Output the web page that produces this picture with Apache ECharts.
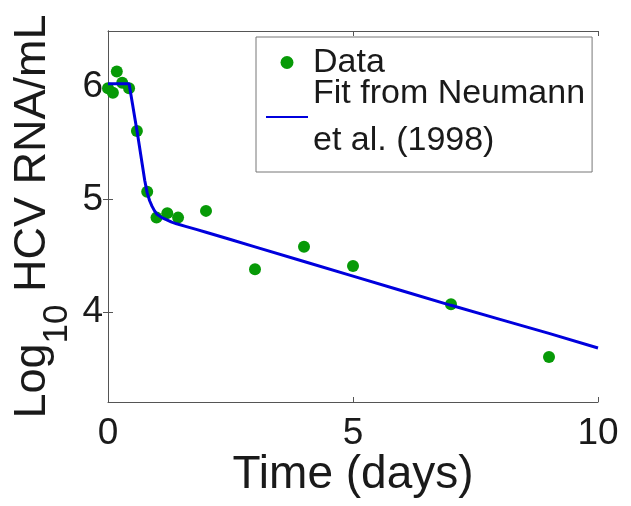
<!DOCTYPE html>
<html>
<head>
<meta charset="utf-8">
<script src="https://cdn.jsdelivr.net/npm/echarts@6/dist/echarts.min.js"></script>
<style>html,body{margin:0;padding:0;background:#fff}#c{width:631px;height:506px}</style>
</head>
<body>
<div id="c"></div>
<script>
// Data points (time in days, log10 HCV RNA/mL)
var dataT = [0, 0.1, 0.18, 0.29, 0.43, 0.59, 0.8, 0.99, 1.21, 1.43, 2, 3, 4, 5, 7, 9];
var dataV = [5.99, 5.95, 6.14, 6.04, 5.99, 5.61, 5.07, 4.84, 4.88, 4.84, 4.90, 4.38, 4.58, 4.41, 4.07, 3.60];
// Fit curve
var fitT = [0, 0.1, 0.2, 0.3, 0.43, 0.45, 0.5, 0.55, 0.6, 0.65, 0.7, 0.75, 0.8, 0.85, 0.9, 0.95, 1.0, 1.1, 1.2, 1.3, 1.4, 1.6, 1.8, 2.0, 2.5, 3, 4, 5, 6, 7, 8, 9, 10];
var fitV = [6.03, 6.03, 6.03, 6.03, 6.03, 5.98, 5.85, 5.72, 5.59, 5.45, 5.31, 5.17, 5.06, 4.99, 4.94, 4.90, 4.87, 4.84, 4.82, 4.80, 4.785, 4.76, 4.735, 4.71, 4.645, 4.58, 4.45, 4.32, 4.19, 4.06, 3.935, 3.81, 3.68];
var xTicks = [0, 5, 10];
var yTicks = [4, 5, 6];

var FONT = 'Liberation Sans, Arial, Helvetica, sans-serif';
var frameColor = '#555';

function pairs(a, b) { return a.map(function (v, i) { return [v, b[i]]; }); }

var chart = echarts.init(document.getElementById('c'), null, {renderer: 'canvas'});
var tickStyle = {show: true, inside: true, length: 5, lineStyle: {color: frameColor, width: 1}};
chart.setOption({
  animation: false,
  backgroundColor: '#fff',
  grid: {left: 108, right: 33, top: 31, bottom: 104, show: false, containLabel: false, outerBoundsMode: 'none'},
  xAxis: [{
    type: 'value', min: 0, max: 10, position: 'bottom',
    axisLine: {show: true, lineStyle: {color: frameColor, width: 1}},
    axisTick: Object.assign({customValues: xTicks}, tickStyle),
    axisLabel: {customValues: xTicks, fontFamily: FONT, fontSize: 37, color: '#1a1a1a', margin: 13},
    splitLine: {show: false},
    name: 'Time (days)', nameLocation: 'middle', nameGap: 50, nameMoveOverlap: false,
    nameTextStyle: {fontFamily: FONT, fontSize: 46, color: '#1a1a1a'}
  }, {
    type: 'value', min: 0, max: 10, position: 'top',
    axisLine: {show: true, lineStyle: {color: frameColor, width: 1}},
    axisTick: Object.assign({customValues: xTicks}, tickStyle),
    axisLabel: {show: false}, splitLine: {show: false}
  }],
  yAxis: [{
    type: 'value', min: 3.2, max: 6.5, position: 'left',
    axisLine: {show: true, lineStyle: {color: frameColor, width: 1}},
    axisTick: Object.assign({customValues: yTicks}, tickStyle),
    axisLabel: {customValues: yTicks, fontFamily: FONT, fontSize: 37, color: '#1a1a1a', margin: 5},
    splitLine: {show: false},
    name: '{m|Log}{s|10}{m| HCV RNA/mL}', nameLocation: 'middle', nameRotate: 90, nameGap: 48, nameMoveOverlap: false,
    nameTextStyle: {
      fontFamily: FONT, color: '#1a1a1a',
      rich: {
        m: {fontFamily: FONT, fontSize: 45, lineHeight: 50, verticalAlign: 'top', color: '#1a1a1a'},
        s: {fontFamily: FONT, fontSize: 35, lineHeight: 36, verticalAlign: 'top', padding: [30, 0, 0, 0], color: '#1a1a1a'}
      }
    }
  }, {
    type: 'value', min: 3.2, max: 6.5, position: 'right',
    axisLine: {show: true, lineStyle: {color: frameColor, width: 1}},
    axisTick: Object.assign({customValues: yTicks}, tickStyle),
    axisLabel: {show: false}, splitLine: {show: false}
  }],
  legend: {
    orient: 'vertical', left: 256, top: 37,
    padding: [2, 7, 8, 9], itemGap: -16,
    itemWidth: 42, itemHeight: 13,
    backgroundColor: '#fff', borderColor: '#777', borderWidth: 1,
    textStyle: {fontFamily: FONT, fontSize: 34, color: '#1a1a1a', lineHeight: 47},
    data: [
      {name: 'Data', icon: 'circle'},
      {name: 'Fit from Neumann\net al. (1998)', itemStyle: {color: 'rgba(0,0,0,0)', borderWidth: 0, opacity: 0}}
    ]
  },
  series: [{
    name: 'Data', type: 'scatter', data: pairs(dataT, dataV),
    symbol: 'circle', symbolSize: 12,
    itemStyle: {color: '#079a07', opacity: 1}
  }, {
    name: 'Fit from Neumann\net al. (1998)', type: 'line', data: pairs(fitT, fitV),
    symbol: 'none', smooth: false,
    lineStyle: {color: '#0000dd', width: 3}, itemStyle: {color: '#0000dd'}
  }]
});
</script>
</body>
</html>
